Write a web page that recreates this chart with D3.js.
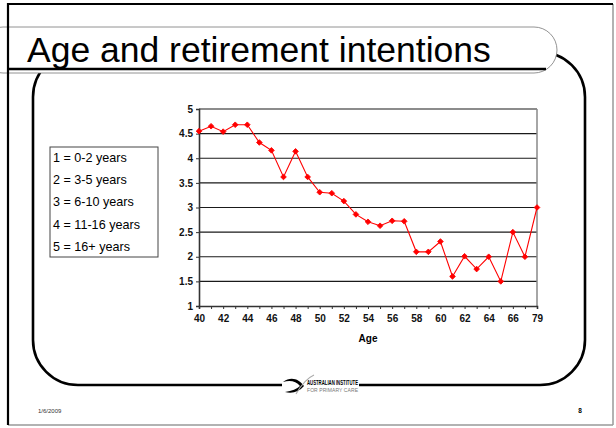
<!DOCTYPE html>
<html>
<head>
<meta charset="utf-8">
<script src="https://cdn.jsdelivr.net/npm/d3@7/dist/d3.min.js"></script>
<style>
  html, body { margin: 0; padding: 0; background: #fff; }
  svg { display: block; font-family: Arial, "Liberation Sans", Helvetica, sans-serif; }
</style>
</head>
<body>
<div id="slide"></div>
<script>
// ages on the category axis (last one jumps to 79)
const ages = [40, 41, 42, 43, 44, 45, 46, 47, 48, 49, 50, 51, 52, 53, 54, 55, 56, 57,
              58, 59, 60, 61, 62, 63, 64, 65, 66, 67, 79];
// mean retirement intention score per age
const intention = [4.55, 4.65, 4.54, 4.68, 4.68, 4.32, 4.16, 3.62, 4.14, 3.62, 3.31, 3.29, 3.13, 2.86, 2.71,
                   2.63, 2.73, 2.72, 2.10, 2.10, 2.31, 1.60, 2.01, 1.75, 2.00, 1.50, 2.50, 2.00, 3.00];
const yTicks = [1, 1.5, 2, 2.5, 3, 3.5, 4, 4.5, 5];
const legendItems = ['1 = 0-2 years', '2 = 3-5 years', '3 = 6-10 years', '4 = 11-16 years', '5 = 16+ years'];

const title = 'Age and retirement intentions';
const xTitle = 'Age';
const dateText = '1/6/2009';
const pageNo = '8';

const W = 616, H = 428;
const plot = { left: 199, right: 537, top: 109, bottom: 306 };

const svg = d3.select('#slide').append('svg')
    .attr('width', W)
    .attr('height', H);

// ---- slide decoration ----
// big rounded content frame
svg.append('rect')
    .attr('x', 33).attr('y', 52)
    .attr('width', 552).attr('height', 333)
    .attr('rx', 45).attr('ry', 45)
    .attr('fill', 'none')
    .attr('stroke', '#000')
    .attr('stroke-width', 2.6);

// title bar (white fill hides the top of the frame)
svg.append('rect')
    .attr('x', -20).attr('y', 27)
    .attr('width', 577).attr('height', 46)
    .attr('rx', 23).attr('ry', 23)
    .attr('fill', '#fff')
    .attr('stroke', '#777')
    .attr('stroke-width', 0.8);

svg.append('line')
    .attr('x1', 8).attr('x2', 546)
    .attr('y1', 69).attr('y2', 69)
    .attr('stroke', '#000')
    .attr('stroke-width', 2.6);

svg.append('text')
    .attr('x', 27).attr('y', 62)
    .attr('font-size', 35.5)
    .attr('fill', '#000')
    .text(title);

// outer page border: dark on left/top, grey on right/bottom
svg.append('line').attr('x1', 613).attr('x2', 613).attr('y1', 4).attr('y2', 425)
    .attr('stroke', '#999').attr('stroke-width', 1.5);
svg.append('line').attr('x1', 8).attr('x2', 613).attr('y1', 425).attr('y2', 425)
    .attr('stroke', '#999').attr('stroke-width', 1.5);
svg.append('line').attr('x1', 8).attr('x2', 613).attr('y1', 4).attr('y2', 4)
    .attr('stroke', '#000').attr('stroke-width', 2.2);
svg.append('line').attr('x1', 8).attr('x2', 8).attr('y1', 3).attr('y2', 425)
    .attr('stroke', '#000').attr('stroke-width', 2.2);

// logo breaks the bottom line of the frame
const logo = svg.append('g').attr('transform', 'translate(282,385)');
logo.append('rect').attr('x', 0).attr('y', -10).attr('width', 77).attr('height', 20).attr('fill', '#fff');
logo.append('path')
    .attr('d', 'M1,-3 C9,-9 17,-6 22,1 C17,7 10,9 3,7 C10,6 15,4 18,1 C14,-4 8,-5 1,-3 Z')
    .attr('fill', '#000');
logo.append('path')
    .attr('d', 'M14,9 C18,2 23,-6 32,-10')
    .attr('fill', 'none')
    .attr('stroke', '#aaa')
    .attr('stroke-width', 1.1);
logo.append('text')
    .attr('x', 25).attr('y', 0)
    .attr('font-size', 6.4)
    .attr('font-weight', 'bold')
    .attr('textLength', 51)
    .attr('lengthAdjust', 'spacingAndGlyphs')
    .text('AUSTRALIAN INSTITUTE');
logo.append('text')
    .attr('x', 25).attr('y', 6.5)
    .attr('font-size', 5)
    .attr('fill', '#777')
    .attr('textLength', 51)
    .attr('lengthAdjust', 'spacing')
    .text('FOR PRIMARY CARE');

svg.append('text')
    .attr('x', 38).attr('y', 413)
    .attr('font-size', 6)
    .attr('fill', '#333')
    .text(dateText);

svg.append('text')
    .attr('x', 580).attr('y', 413)
    .attr('font-size', 6.5)
    .attr('font-weight', 'bold')
    .attr('text-anchor', 'middle')
    .text(pageNo);

// ---- legend box ----
const legend = svg.append('g').attr('transform', 'translate(50,147)');
legend.append('rect')
    .attr('width', 108).attr('height', 110)
    .attr('fill', '#fff')
    .attr('stroke', '#444')
    .attr('stroke-width', 1);
legend.selectAll('text.item')
    .data(legendItems)
    .enter().append('text')
    .attr('class', 'item')
    .attr('x', 3)
    .attr('y', (d, i) => 15 + i * 22.2)
    .attr('font-size', 12.6)
    .text(d => d);

// ---- chart ----
const x = d3.scalePoint()
    .domain(ages.map(String))
    .range([plot.left, plot.right]);

const y = d3.scaleLinear()
    .domain([1, 5])
    .range([plot.bottom, plot.top]);

// horizontal gridlines
svg.append('g')
    .selectAll('line')
    .data(yTicks.filter(d => d > 1))
    .enter().append('line')
    .attr('x1', plot.left).attr('x2', plot.right)
    .attr('y1', d => y(d)).attr('y2', d => y(d))
    .attr('stroke', '#1a1a1a')
    .attr('stroke-width', 1.2);

// right plot border
svg.append('line')
    .attr('x1', plot.right).attr('x2', plot.right)
    .attr('y1', plot.top).attr('y2', plot.bottom)
    .attr('stroke', '#888')
    .attr('stroke-width', 1.5);

const yAxis = svg.append('g')
    .attr('transform', 'translate(' + plot.left + ',0)')
    .call(d3.axisLeft(y).tickValues(yTicks).tickSize(3).tickPadding(3).tickFormat(d => String(d)));

const xAxis = svg.append('g')
    .attr('transform', 'translate(0,' + plot.bottom + ')')
    .call(d3.axisBottom(x).tickSize(3).tickPadding(6).tickFormat((d, i) => i % 2 === 0 ? d : ''));

[yAxis, xAxis].forEach(function(g) {
    g.select('.domain').attr('stroke', '#333').attr('stroke-width', 1.6);
    g.selectAll('.tick line').attr('stroke', '#333');
    g.selectAll('.tick text')
        .attr('fill', '#111')
        .attr('font-size', 10)
        .attr('font-weight', 'bold')
        .attr('font-family', 'Arial, "Liberation Sans", sans-serif');
});

svg.append('text')
    .attr('x', (plot.left + plot.right) / 2)
    .attr('y', 342)
    .attr('text-anchor', 'middle')
    .attr('font-size', 10)
    .attr('font-weight', 'bold')
    .text(xTitle);

// series line + markers
const line = d3.line()
    .x((d, i) => x(String(ages[i])))
    .y(d => y(d));

svg.append('path')
    .datum(intention)
    .attr('d', line)
    .attr('fill', 'none')
    .attr('stroke', '#ff0000')
    .attr('stroke-width', 1.1);

const marker = d3.symbol().type(d3.symbolSquare).size(16);
svg.append('g')
    .selectAll('path')
    .data(intention)
    .enter().append('path')
    .attr('d', marker)
    .attr('transform', (d, i) => 'translate(' + x(String(ages[i])) + ',' + y(d) + ') rotate(45)')
    .attr('fill', '#ff0000')
    .attr('stroke', '#ff0000')
    .attr('stroke-width', 0.8);
</script>
</body>
</html>
